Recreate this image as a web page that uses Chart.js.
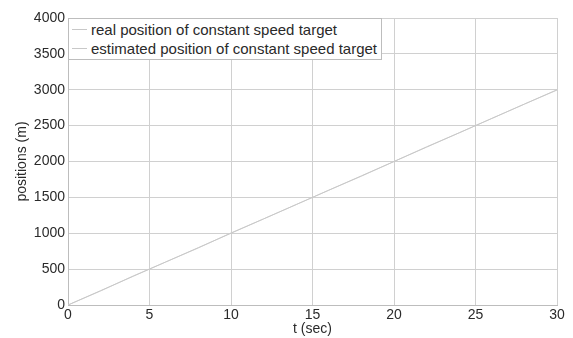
<!DOCTYPE html>
<html>
<head>
<meta charset="utf-8">
<script src="https://cdn.jsdelivr.net/npm/chart.js@4/dist/chart.umd.min.js"></script>
<style>
  html, body { margin: 0; padding: 0; background: #fff; }
  #wrap { position: relative; width: 573px; height: 338px; }
  #legendBox {
    position: absolute; left: 68px; top: 18px;
    border: 1px solid #bdbdbd; background: #fff;
    font-family: "Liberation Sans", Arial, sans-serif; font-size: 15px; color: #2a2a2a;
    padding: 1px 4px 1px 3px; line-height: 19px;
  }
  #legendBox .row { display: flex; align-items: center; }
  #legendBox .sw { width: 15px; height: 0; border-top: 1px solid #c8c8c8; margin-right: 4px; }
</style>
</head>
<body>
<div id="wrap">
  <canvas id="c" width="573" height="338"></canvas>
  <div id="legendBox"></div>
</div>
<script>
// 時間軸 (sec)
const tValues = [0, 2, 4, 6, 8, 10, 12, 14, 16, 18, 20, 22, 24, 26, 28, 30];
// 実位置 (m)
const realPos = [0, 200, 400, 600, 800, 1000, 1200, 1400, 1600, 1800, 2000, 2200, 2400, 2600, 2800, 3000];
// 推定位置 (m)
const estPos = [0, 195, 405, 600, 795, 1005, 1200, 1400, 1600, 1795, 2000, 2205, 2400, 2600, 2800, 2995];

const seriesLabels = ['real position of constant speed target', 'estimated position of constant speed target'];
const xTicks = [0, 5, 10, 15, 20, 25, 30];
const yTicks = [0, 500, 1000, 1500, 2000, 2500, 3000, 3500, 4000];

const FONT = '"Liberation Sans", Arial, sans-serif';

const toPoints = (ys) => tValues.map((t, i) => ({ x: t, y: ys[i] }));

new Chart(document.getElementById('c'), {
    type: 'line',
    data: {
        datasets: [
            { label: seriesLabels[0], data: toPoints(realPos), borderColor: '#c8c8c8', borderWidth: 1, pointRadius: 0, tension: 0 },
            { label: seriesLabels[1], data: toPoints(estPos), borderColor: '#d4d4d4', borderWidth: 1, pointRadius: 0, tension: 0 }
        ]
    },
    options: {
        responsive: false,
        animation: false,
        layout: { padding: { left: 0, right: 16, top: 18, bottom: 0 } },
        plugins: { legend: { display: false }, tooltip: { enabled: false } },
        scales: {
            x: {
                type: 'linear', min: 0, max: 30,
                afterBuildTicks: (s) => { s.ticks = xTicks.map(v => ({ value: v })); },
                afterFit: (s) => { s.height = 33; },
                grid: { color: '#d0d0d0', lineWidth: 1, drawTicks: false },
                border: { color: '#bdbdbd' },
                ticks: { color: '#2a2a2a', font: { family: FONT, size: 14 }, padding: 2, maxRotation: 0, callback: (v) => String(v) },
                title: { display: true, text: 't (sec)', color: '#2a2a2a', font: { family: FONT, size: 14 }, padding: { top: -4, bottom: 0 } }
            },
            y: {
                type: 'linear', min: 0, max: 4000,
                afterBuildTicks: (s) => { s.ticks = yTicks.map(v => ({ value: v })); },
                afterFit: (s) => { s.width = 68; },
                grid: { color: '#d0d0d0', lineWidth: 1, drawTicks: false },
                border: { color: '#bdbdbd' },
                ticks: { color: '#2a2a2a', font: { family: FONT, size: 14 }, padding: 3, callback: (v) => String(v) },
                title: { display: true, text: 'positions (m)', color: '#2a2a2a', font: { family: FONT, size: 14 }, padding: { top: 14, bottom: 0 } }
            }
        }
    }
});

// 凡例（枠付き）
document.getElementById('legendBox').innerHTML = seriesLabels
    .map(l => `<div class="row"><span class="sw"></span><span>${l}</span></div>`).join('');
</script>
</body>
</html>
